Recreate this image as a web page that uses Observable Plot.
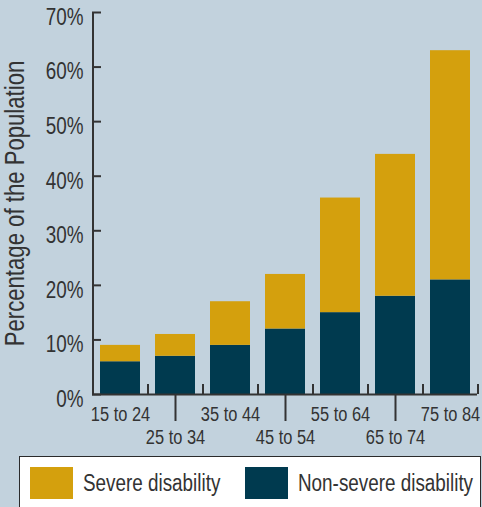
<!DOCTYPE html>
<html>
<head>
<meta charset="utf-8">
<script src="https://cdn.jsdelivr.net/npm/d3@7"></script>
<script src="https://cdn.jsdelivr.net/npm/@observablehq/plot@0.6"></script>
<style>
  html, body { margin: 0; padding: 0; background: #C2D2DD; }
  body { width: 482px; height: 507px; position: relative; overflow: hidden;
         font-family: "Liberation Sans", Arial, sans-serif; color: #333; }
  #chart { position: absolute; left: 0; top: 0; }
  #legend { position: absolute; left: 19px; top: 456px; width: 462px; height: 60px; background: #fff;
            border: 1.5px solid #2b2b2b; box-sizing: border-box; }
  .sw { position: absolute; top: 10px; width: 43px; height: 32px; }
  .lt { position: absolute; top: 10px; line-height: 32px; font-size: 23px; color: #333; white-space: nowrap;
        transform: scaleX(0.82); transform-origin: left center; }
</style>
</head>
<body>
<div id="chart"></div>
<div id="legend">
  <div class="sw" id="sw1" style="left:10px"></div>
  <div class="lt" id="lt1" style="left:63px"></div>
  <div class="sw" id="sw2" style="left:225px"></div>
  <div class="lt" id="lt2" style="left:278px"></div>
</div>
<script>
const ages = ["15 to 24", "25 to 34", "35 to 44", "45 to 54", "55 to 64", "65 to 74", "75 to 84"];
const nonSevere = [6, 7, 9, 12, 15, 18, 21];
const severe = [3, 4, 8, 10, 21, 26, 42];
const seriesNames = ["Non-severe disability", "Severe disability"];
const seriesColors = ["#003A4F", "#D4A00D"];
const yTicks = [0, 10, 20, 30, 40, 50, 60, 70];
const yTitle = "Percentage of the Population";

const rows = [];
ages.forEach((a, i) => rows.push({age: a, type: seriesNames[0], value: nonSevere[i]}));
ages.forEach((a, i) => rows.push({age: a, type: seriesNames[1], value: severe[i]}));

const W = 482, H = 450, ML = 92, MR = 5, MT = 12, MB = 56;
const step = (W - ML - MR) / ages.length;
const ink = "#333";
const font = '"Liberation Sans", Arial, sans-serif';

const chart = Plot.plot({
  width: W, height: H,
  marginLeft: ML, marginRight: MR, marginTop: MT, marginBottom: MB,
  style: {background: "transparent", fontFamily: font, color: ink, overflow: "visible"},
  x: {type: "band", domain: ages, paddingInner: 15 / 55, paddingOuter: 7.5 / 55, align: 0.5},
  y: {domain: [yTicks[0], yTicks[yTicks.length - 1]]},
  color: {domain: seriesNames, range: seriesColors},
  marks: [
    Plot.barY(rows, {x: "age", y: "value", fill: "type", order: seriesNames}),
    // y tick labels
    Plot.axisY({ticks: yTicks, tickSize: 0, tickPadding: 9, tickFormat: d => d + "%", fontSize: 23, dy: 5, label: null, fill: ink}),
    // inward y ticks
    Plot.axisY({ticks: yTicks, tickSize: -9, tickFormat: () => "", label: null, stroke: ink, strokeWidth: 2}),
    // y axis line
    Plot.ruleX([ages[0]], {x: d => d, dx: -step / 2, y1: yTicks[0], y2: yTicks[yTicks.length - 1], stroke: ink, strokeWidth: 2}),
    // x axis line
    Plot.ruleY([0], {stroke: ink, strokeWidth: 2}),
    // small upward ticks at band boundaries
    Plot.axisX({ticks: ages, tickSize: -10, tickFormat: () => "", dx: step / 2, label: null, stroke: ink, strokeWidth: 2}),
    // first row of labels
    Plot.axisX({ticks: ages.filter((d, i) => i % 2 === 0), tickSize: 0, tickPadding: 12, fontSize: 20, label: null, fill: ink}),
    // second row of labels with long ticks
    Plot.axisX({ticks: ages.filter((d, i) => i % 2 === 1), tickSize: 27, tickPadding: 8, fontSize: 20, label: null, fill: ink, stroke: ink, strokeWidth: 2}),
    // y title
    Plot.text([yTitle], {frameAnchor: "left", textAnchor: "middle", rotate: -90, dx: -77, fontSize: 27, fill: ink, text: d => d})
  ]
});
document.getElementById("chart").appendChild(chart);

// emulate a condensed face (Arial Narrow proportions) by compressing glyphs horizontally
chart.querySelectorAll("text").forEach(t => {
  const targets = t.querySelectorAll("tspan").length ? t.querySelectorAll("tspan") : [t];
  targets.forEach(el => {
    const len = el.getComputedTextLength();
    if (len > 0) {
      el.setAttribute("textLength", (len * 0.82).toFixed(2));
      el.setAttribute("lengthAdjust", "spacingAndGlyphs");
    }
  });
});

document.getElementById("sw1").style.background = seriesColors[1];
document.getElementById("sw2").style.background = seriesColors[0];
document.getElementById("lt1").textContent = "Severe disability";
document.getElementById("lt2").textContent = seriesNames[0];
</script>
</body>
</html>
